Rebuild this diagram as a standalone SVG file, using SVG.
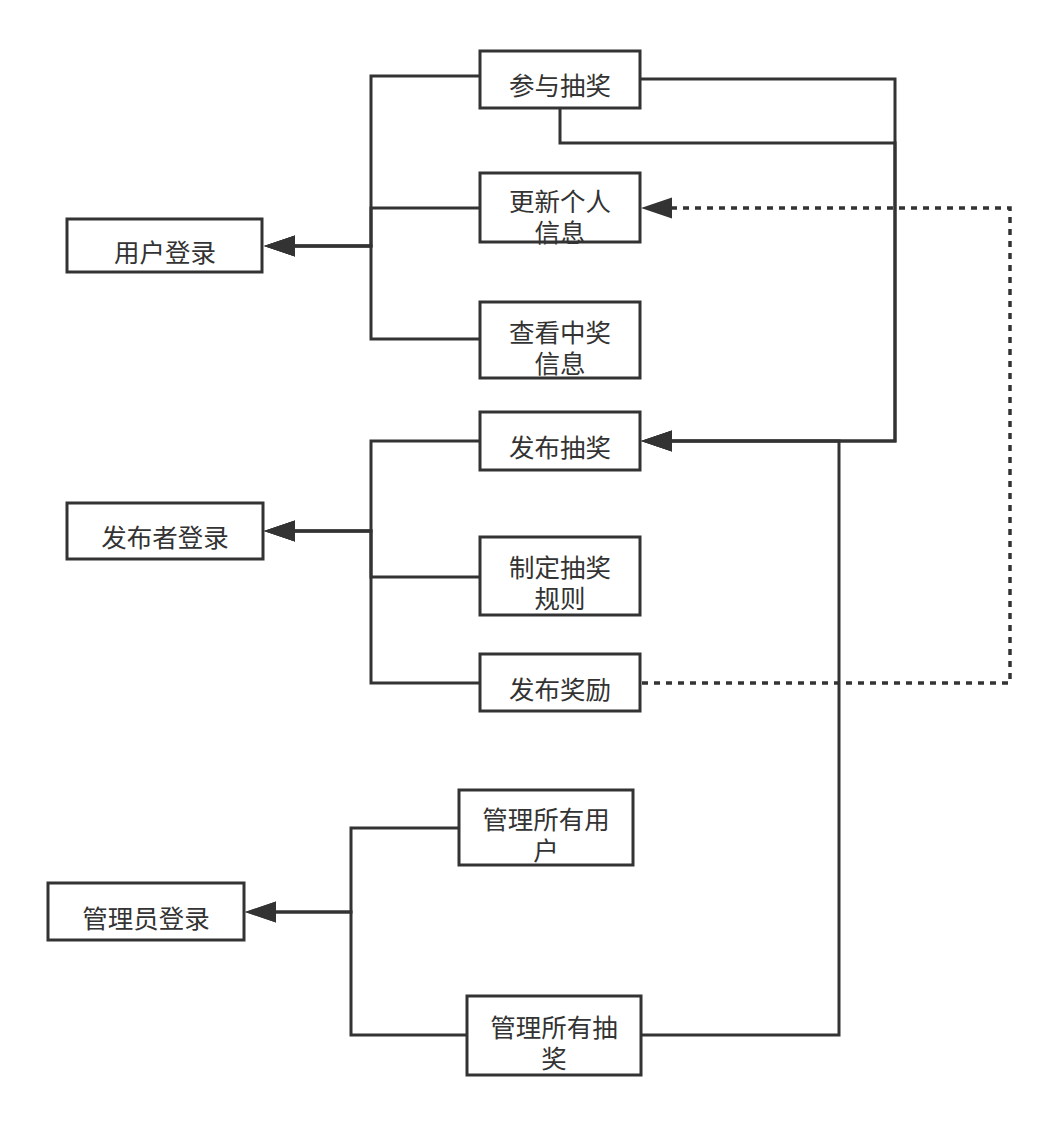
<svg xmlns="http://www.w3.org/2000/svg" width="1059" height="1124" viewBox="0 0 1059 1124">
<style>
.box{fill:#ffffff;stroke:#333333;stroke-width:3}
.t{font-family:"Noto Sans CJK SC","Noto Sans",sans-serif;font-size:25.5px;fill:#333333;text-anchor:middle;dominant-baseline:central}
.e{fill:none;stroke:#333333;stroke-width:3}
.d{fill:none;stroke:#333333;stroke-width:3.5;stroke-dasharray:6 6}
</style>
<defs>
<marker id="arr" markerUnits="userSpaceOnUse" viewBox="0 -11 32 22" markerWidth="32" markerHeight="22" refX="0" refY="0" orient="auto">
<path d="M0,-10.5 L31,0 L0,10.5 z" fill="#333333"/>
</marker>
</defs>
<rect width="1059" height="1124" fill="#ffffff"/>
<g id="connectors">
<path class="e" d="M480,76 H371 V246 H295" marker-end="url(#arr)"/>
<path class="e" d="M480,208 H371 V246 H295" marker-end="url(#arr)"/>
<path class="e" d="M480,339 H371 V246 H295" marker-end="url(#arr)"/>
<path class="e" d="M640,79 H895 V441 H672" marker-end="url(#arr)"/>
<path class="e" d="M560,108 V143 H895 V441 H672" marker-end="url(#arr)"/>
<path class="e" d="M641,1035 H839 V441 H672" marker-end="url(#arr)"/>
<path class="e" d="M480,441 H371 V531 H295" marker-end="url(#arr)"/>
<path class="e" d="M480,577 H371 V531 H295" marker-end="url(#arr)"/>
<path class="e" d="M480,683 H371 V531 H295" marker-end="url(#arr)"/>
<path class="d" d="M642,683 H1010 V208 H672" marker-end="url(#arr)"/>
<path class="e" d="M459,828 H351 V912 H276" marker-end="url(#arr)"/>
<path class="e" d="M467,1035 H351 V912 H276" marker-end="url(#arr)"/>
</g>
<g id="n-canyu"><rect class="box" x="480" y="51" width="160" height="57"/><text class="t" x="560" y="83">参与抽奖</text></g>
<g id="n-gengxin"><rect class="box" x="480" y="173" width="160" height="69"/><text class="t" x="560" y="199">更新个人</text><text class="t" x="560" y="230">信息</text></g>
<g id="n-chakan"><rect class="box" x="480" y="302" width="160" height="76"/><text class="t" x="560" y="330">查看中奖</text><text class="t" x="560" y="361">信息</text></g>
<g id="n-yonghu"><rect class="box" x="67" y="219" width="195" height="53"/><text class="t" x="165" y="250">用户登录</text></g>
<g id="n-fabuchoujiang"><rect class="box" x="480" y="412" width="160" height="58"/><text class="t" x="560" y="445">发布抽奖</text></g>
<g id="n-fabuzhe"><rect class="box" x="67" y="503" width="196" height="56"/><text class="t" x="165" y="535">发布者登录</text></g>
<g id="n-zhiding"><rect class="box" x="480" y="537" width="160" height="78"/><text class="t" x="560" y="565">制定抽奖</text><text class="t" x="560" y="596">规则</text></g>
<g id="n-fabujiangli"><rect class="box" x="480" y="654" width="160" height="57"/><text class="t" x="560" y="687">发布奖励</text></g>
<g id="n-guanliyonghu"><rect class="box" x="459" y="790" width="174" height="75"/><text class="t" x="546" y="817">管理所有用</text><text class="t" x="546" y="848">户</text></g>
<g id="n-guanliyuan"><rect class="box" x="48" y="883" width="196" height="57"/><text class="t" x="146" y="916">管理员登录</text></g>
<g id="n-guanlichoujiang"><rect class="box" x="467" y="996" width="174" height="79"/><text class="t" x="554" y="1025">管理所有抽</text><text class="t" x="554" y="1056">奖</text></g>
</svg>
